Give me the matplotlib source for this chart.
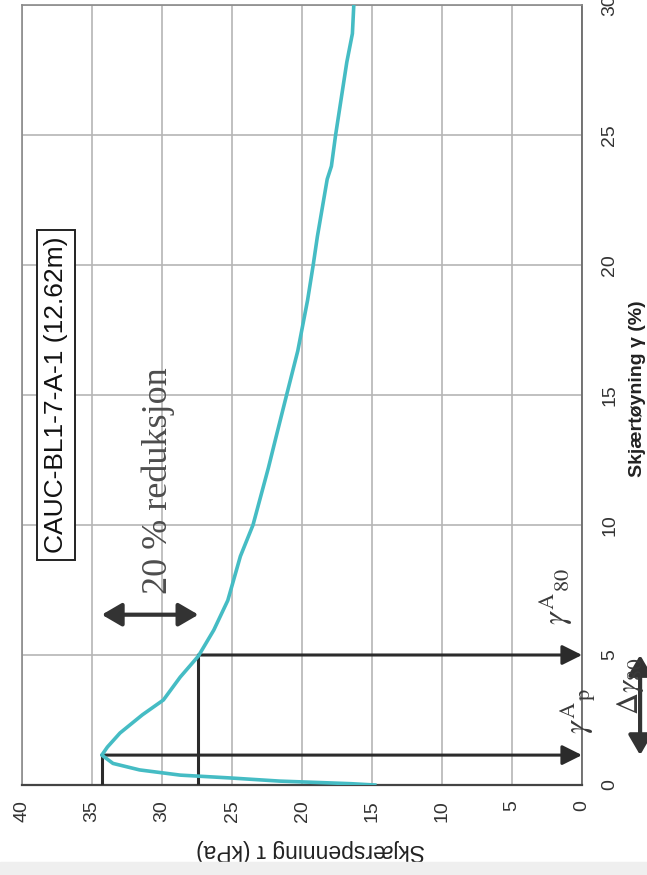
import matplotlib
matplotlib.use('Agg')
import matplotlib.pyplot as plt
from matplotlib.patches import Rectangle

# shear strain (%) and shear stress (kPa)
gamma = [0, 0.05, 0.08, 0.15, 0.27, 0.38, 0.58, 0.83, 1.15, 1.46, 2.0, 2.7,
         3.27, 4.15, 4.96, 5.96, 7.1, 8.8, 10.0, 12.2, 13.5, 15.0, 16.7,
         18.65, 20.0, 21.1, 23.3, 23.8, 25.0, 27.8, 28.9, 30.0]
tau = [14.8, 16.5, 18.0, 21.6, 25.1, 28.7, 31.6, 33.5, 34.3, 33.9, 33.0, 31.4,
       29.9, 28.7, 27.4, 26.3, 25.3, 24.4, 23.5, 22.4, 21.8, 21.1, 20.3,
       19.6, 19.2, 18.9, 18.2, 17.9, 17.6, 16.8, 16.4, 16.3]

tau_p = 34.3
gamma_p = 1.15
tau_80 = 27.4
gamma_80 = 5.0
gamma_arrow = 6.55
tau_dgamma = -4.15

tau_ticks = [0, 5, 10, 15, 20, 25, 30, 35, 40]
gamma_ticks = [0, 5, 10, 15, 20, 25, 30]

sample = 'CAUC-BL1-7-A-1 (12.62m)'
txt_red = '20 % reduksjon'


def main():
    plt.rcParams['font.family'] = ['Liberation Sans', 'DejaVu Sans']
    plt.rcParams['mathtext.fontset'] = 'stix'

    fig = plt.figure(figsize=(6.47, 8.75), dpi=100)
    fig.patches.append(Rectangle((0, 0), 1, 13 / 875, transform=fig.transFigure,
                                 color='#efefef', zorder=0))
    W, H = 647.0, 875.0
    ax = fig.add_axes([22 / W, 90 / H, 560 / W, 780 / H])

    ax.set_xlim(40, 0)
    ax.set_ylim(0, 30)
    ax.set_xticks(tau_ticks)
    ax.set_yticks(gamma_ticks)
    ax.grid(True, color='#b5b5b5', lw=1.2)
    ax.set_axisbelow(True)

    for s in ['left', 'top']:
        ax.spines[s].set_color('#8a8a8a')
        ax.spines[s].set_linewidth(1.2)
    ax.spines['right'].set_color('#6a6a6a')
    ax.spines['right'].set_linewidth(1.3)
    ax.spines['bottom'].set_color('#444444')
    ax.spines['bottom'].set_linewidth(1.6)

    ax.tick_params(axis='x', length=0, pad=11, labelsize=14, labelcolor='#333333',
                   labelrotation=90)
    ax.tick_params(axis='y', length=0, pad=14, labelsize=14, labelcolor='#333333',
                   labelrotation=90, left=False, labelleft=False, labelright=True)
    for lb in ax.get_yticklabels():
        lb.set_va('center')

    xl = ax.set_xlabel('Skjærspenning τ (kPa)', fontsize=16.5, color='#222222',
                       rotation=180)
    xl.set_va('center')
    xl.set_ha('center')
    ax.xaxis.set_label_coords(0.516, -0.084)
    ax.yaxis.set_label_position('right')
    yl = ax.set_ylabel('Skjærtøyning γ (%)', fontsize=14, fontweight='bold',
                       color='#222222', rotation=90)
    yl.set_va('center')
    yl.set_ha('center')
    ax.yaxis.set_label_coords(1.1, 0.508)

    # the test curve
    ax.plot(tau, gamma, color='#45bcc4', lw=2.6, zorder=4)

    # peak and 80 % lines
    dark = '#2b2b2b'
    ax.plot([tau_p, tau_p], [0, gamma_p], color=dark, lw=2.2, zorder=3)
    ax.plot([tau_80, tau_80], [0, gamma_80], color=dark, lw=2.2, zorder=3)
    head = '-|>,head_length=0.6,head_width=0.3'
    for g, t in [(gamma_p, tau_p), (gamma_80, tau_80)]:
        ax.annotate('', xy=(0, g), xytext=(t, g), annotation_clip=False,
                    arrowprops=dict(arrowstyle=head, color=dark, lw=2.2,
                                    mutation_scale=20, shrinkA=0, shrinkB=0))

    dbl = '<|-|>,head_length=0.6,head_width=0.35'
    ax.annotate('', xy=(tau_80, gamma_arrow), xytext=(tau_p, gamma_arrow),
                arrowprops=dict(arrowstyle=dbl, color='#333333', lw=3,
                                mutation_scale=20, shrinkA=0, shrinkB=0))
    ax.annotate('', xy=(tau_dgamma, gamma_80), xytext=(tau_dgamma, gamma_p),
                annotation_clip=False,
                arrowprops=dict(arrowstyle=dbl, color='#333333', lw=3,
                                mutation_scale=20, shrinkA=0, shrinkB=0))

    # texts
    tr = ax.transAxes
    def px(x, y):
        return ((x - 22) / 560.0, (785 - y) / 780.0)

    ax.text(*px(56, 395), sample, transform=tr, rotation=90, fontsize=19,
            ha='center', va='center', color='#111111',
            bbox=dict(boxstyle='square,pad=0.25', fc='white', ec='#222222', lw=1.4))
    ax.text(*px(158, 481), txt_red, transform=tr, rotation=90, fontsize=26,
            family='Liberation Serif', ha='center', va='center', color='#4d4d4d')

    gcol = '#3a3a3a'
    ax.text(*px(556, 597), r'$\gamma^{\mathrm{A}}{}_{80}$', transform=tr,
            rotation=90, fontsize=23, ha='center', va='center', color=gcol,
            clip_on=False)
    ax.text(*px(578, 711), r'$\gamma^{\mathrm{A}}{}_{\mathrm{p}}$', transform=tr,
            rotation=90, fontsize=23, ha='center', va='center', color=gcol,
            clip_on=False)
    ax.text(*px(630, 686), r'$\Delta\gamma_{80}$', transform=tr,
            rotation=90, fontsize=22, ha='center', va='center', color=gcol,
            clip_on=False, zorder=5)

    fig.savefig('out.png', dpi=100, facecolor='white')


if __name__ == "__main__":
    main()
